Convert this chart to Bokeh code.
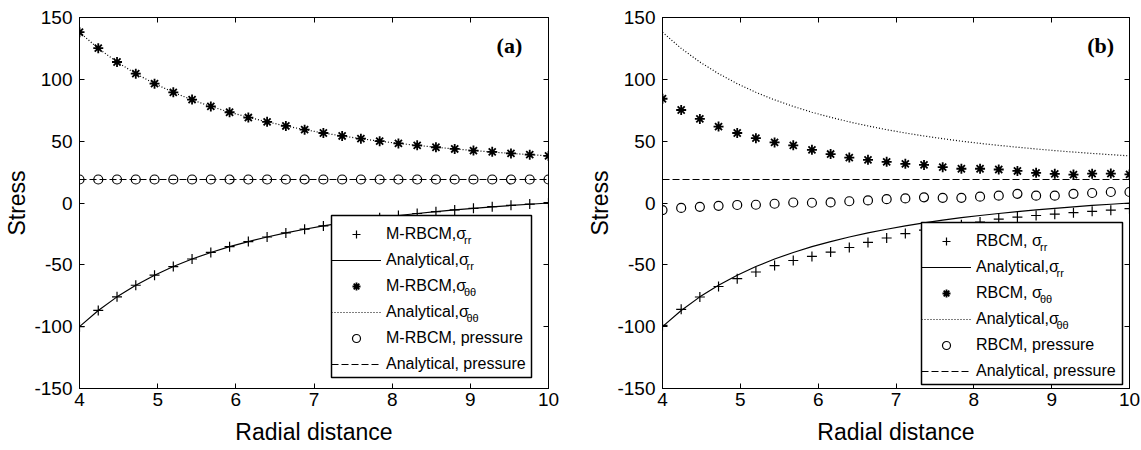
from bokeh.plotting import figure
from bokeh.layouts import row
from bokeh.models import (Legend, LegendItem, Label, LinearAxis, FixedTicker, Range1d,
                          BoxAnnotation)
from bokeh.embed import file_html
from bokeh.resources import INLINE

# ---------------- data ----------------
radial = [4.00, 4.24, 4.48, 4.72, 4.96, 5.20, 5.44, 5.68, 5.92, 6.16, 6.40, 6.64, 6.88,
          7.12, 7.36, 7.60, 7.84, 8.08, 8.32, 8.56, 8.80, 9.04, 9.28, 9.52, 9.76, 10.00]

analytical_rr = [-100.0, -86.9, -75.9, -66.5, -58.4, -51.4, -45.3, -40.0, -35.3, -31.2, -27.5, -24.2, -21.2,
                 -18.5, -16.1, -13.9, -11.9, -10.1, -8.5, -7.0, -5.6, -4.3, -3.1, -2.0, -1.0, 0.0]
analytical_tt = [138.1, 125.0, 114.0, 104.6, 96.5, 89.5, 83.4, 78.1, 73.4, 69.3, 65.6, 62.3, 59.3,
                 56.6, 54.2, 52.0, 50.0, 48.2, 46.6, 45.1, 43.7, 42.4, 41.2, 40.1, 39.1, 38.1]
analytical_p = [19.0, 19.0, 19.0, 19.0, 19.0, 19.0, 19.0, 19.0, 19.0, 19.0, 19.0, 19.0, 19.0,
                19.0, 19.0, 19.0, 19.0, 19.0, 19.0, 19.0, 19.0, 19.0, 19.0, 19.0, 19.0, 19.0]

# panel (a): M-RBCM
mrbcm_rr = [-100.0, -86.9, -75.9, -66.5, -58.4, -51.4, -45.3, -40.0, -35.3, -31.2, -27.5, -24.2, -21.2,
            -18.5, -16.1, -13.9, -11.9, -10.1, -8.5, -7.0, -5.6, -4.3, -3.0, -1.9, -0.9, 0.3]
mrbcm_tt = [138.1, 125.2, 114.0, 104.6, 96.5, 89.5, 83.6, 78.1, 73.4, 69.1, 65.6, 62.3, 59.3,
            56.6, 54.2, 52.0, 50.0, 48.2, 46.6, 45.1, 43.7, 42.4, 41.4, 40.1, 39.1, 38.1]
mrbcm_p = [19.0, 19.0, 19.0, 19.0, 19.0, 19.0, 19.0, 19.0, 19.0, 19.0, 19.0, 19.0, 19.0,
           19.0, 19.0, 19.0, 19.0, 19.0, 19.0, 19.0, 19.0, 19.0, 19.0, 19.0, 19.0, 19.0]

# panel (b): RBCM
rbcm_rr = [-99.0, -86.0, -76.0, -67.5, -61.2, -55.8, -50.6, -46.5, -43.2, -39.7, -36.0, -31.9, -28.3,
           -24.7, -22.0, -19.8, -17.6, -15.4, -13.0, -11.4, -10.1, -9.0, -7.8, -6.7, -5.8, -4.6]
rbcm_tt = [84.3, 75.2, 68.0, 61.8, 56.6, 52.4, 49.0, 46.6, 43.0, 39.6, 36.7, 34.9, 33.3,
           31.7, 30.8, 29.0, 27.7, 27.7, 27.1, 25.9, 24.4, 23.6, 23.0, 23.7, 23.8, 23.1]
rbcm_p = [-5.7, -4.0, -3.1, -2.3, -1.6, -1.4, -0.6, 0.4, 0.2, 0.5, 1.4, 2.1, 3.1,
          3.7, 4.6, 4.2, 4.2, 5.1, 5.9, 7.4, 5.9, 5.9, 7.4, 8.1, 8.9, 8.9]

x_ticks = [4, 5, 6, 7, 8, 9, 10]
y_ticks = [-150, -100, -50, 0, 50, 100, 150]
y_tick_labels = ["-150", "-100", "-50", "0", "50", "100", "150"]

FONT = "Liberation Sans"
INK = "black"


def make_panel(width, b_left, b_right, rr, tt, pr, method, sep, tag, tag_x, legend_loc,
               legend_w, text_w):
    H = 450
    b_top, b_bot = 17, 62
    fw = width - b_left - b_right
    fh = H - b_top - b_bot

    def xd(px):  # pixels from frame left -> data x
        return 4 + px * 6 / fw

    def yd(px):  # pixels from frame bottom -> data y
        return -150 + px * 300 / fh

    p = figure(width=width, height=H, x_range=Range1d(4, 10), y_range=Range1d(-150, 150),
               output_backend="svg", toolbar_location=None,
               min_border_left=b_left, min_border_right=b_right,
               min_border_top=b_top, min_border_bottom=b_bot,
               x_axis_type=None, y_axis_type=None)
    p.grid.visible = False
    p.outline_line_color = INK
    p.outline_line_width = 1
    p.background_fill_color = "white"
    p.border_fill_color = "white"

    def style(ax, labels=True):
        ax.axis_line_color = INK
        ax.axis_line_width = 1
        ax.major_tick_in = 5
        ax.major_tick_out = 0
        ax.major_tick_line_color = INK
        ax.minor_tick_line_color = None
        if labels:
            ax.major_label_text_font = FONT
            ax.major_label_text_font_size = "19px"
            ax.major_label_text_color = INK
            ax.axis_label_text_font = FONT
            ax.axis_label_text_font_size = "23px"
            ax.axis_label_text_font_style = "normal"
            ax.axis_label_text_color = INK
        else:
            ax.major_label_text_color = None
            ax.major_label_text_font_size = "1px"
            ax.major_label_standoff = 0

    xb = LinearAxis(ticker=FixedTicker(ticks=x_ticks), axis_label="Radial distance")
    style(xb)
    xb.major_label_standoff = 4
    xb.axis_label_standoff = 10
    p.add_layout(xb, "below")
    yl = LinearAxis(ticker=FixedTicker(ticks=y_ticks), axis_label="Stress")
    style(yl)
    yl.major_label_overrides = {t: s for t, s in zip(y_ticks, y_tick_labels)}
    yl.major_label_standoff = 7
    yl.axis_label_standoff = 1
    p.add_layout(yl, "left")
    xt = LinearAxis(ticker=FixedTicker(ticks=x_ticks))
    style(xt, labels=False)
    p.add_layout(xt, "above")
    yr = LinearAxis(ticker=FixedTicker(ticks=y_ticks))
    style(yr, labels=False)
    p.add_layout(yr, "right")

    l_rr = p.line(radial, analytical_rr, line_color=INK, line_width=1.2)
    l_tt = p.line(radial, analytical_tt, line_color=INK, line_width=1.2, line_dash="1 2")
    l_p = p.line(radial, analytical_p, line_color=INK, line_width=1.2, line_dash="7 3")
    s_rr = p.scatter(radial, rr, marker="cross", size=10, line_color=INK, line_width=1.2)
    s_tt = p.scatter(radial, tt, marker="asterisk", size=10, line_color=INK, line_width=1.8)
    s_p = p.scatter(radial, pr, marker="circle", size=9, fill_color=None, line_color=INK, line_width=1.2)

    pad, row_h, gw, standoff = 3, 26, 50, 5
    leg_h = 2 * pad + 6 * row_h

    # opaque legend box (drawn beneath the legend entries)
    p.add_layout(BoxAnnotation(left=xd(legend_loc[0]), right=xd(legend_loc[0] + legend_w),
                               bottom=yd(legend_loc[1]), top=yd(legend_loc[1] + leg_h),
                               fill_color="white", fill_alpha=1.0,
                               line_color=INK, line_width=1.5, line_alpha=1.0))

    items = [
        LegendItem(label=method + sep + "σ", renderers=[s_rr]),
        LegendItem(label="Analytical,σ", renderers=[l_rr]),
        LegendItem(label=method + sep + "σ", renderers=[s_tt]),
        LegendItem(label="Analytical,σ", renderers=[l_tt]),
        LegendItem(label=method + ", pressure", renderers=[s_p]),
        LegendItem(label="Analytical, pressure", renderers=[l_p]),
    ]
    leg = Legend(items=items, location=legend_loc, padding=pad, spacing=0, margin=0,
                 label_height=row_h, glyph_height=20, glyph_width=gw, label_standoff=standoff,
                 label_text_font=FONT, label_text_font_size="16px", label_text_color=INK,
                 border_line_color=None, background_fill_alpha=0.0)
    p.add_layout(leg)

    subs = ["rr", "rr", "θθ", "θθ"]
    for i, sub in enumerate(subs):
        px_x = legend_loc[0] + pad + gw + standoff + text_w[i % 2 == 1]
        px_y = legend_loc[1] + leg_h - pad - row_h * i - row_h / 2 - 8
        p.add_layout(Label(x=xd(px_x), y=yd(px_y), text=sub,
                           text_font=FONT, text_font_size="11px", text_color=INK,
                           text_align="left", text_baseline="middle"))

    p.add_layout(Label(x=tag_x, y=127.5, text=tag, text_font="Liberation Serif",
                       text_font_style="bold", text_font_size="22px", text_color=INK,
                       text_align="center", text_baseline="middle"))
    return p


p1 = make_panel(570, 79, 22, mrbcm_rr, mrbcm_tt, mrbcm_p, "M-RBCM", ",", "(a)", 9.5,
                (252, 11), 200, {False: 74.5, True: 77.0})
p2 = make_panel(571, 92, 12, rbcm_rr, rbcm_tt, rbcm_p, "RBCM", ", ", "(b)", 9.63,
                (259, 4), 201, {False: 60.5, True: 77.0})

layout = row(p1, p2)
open("out.html", "w").write(file_html(layout, INLINE))
